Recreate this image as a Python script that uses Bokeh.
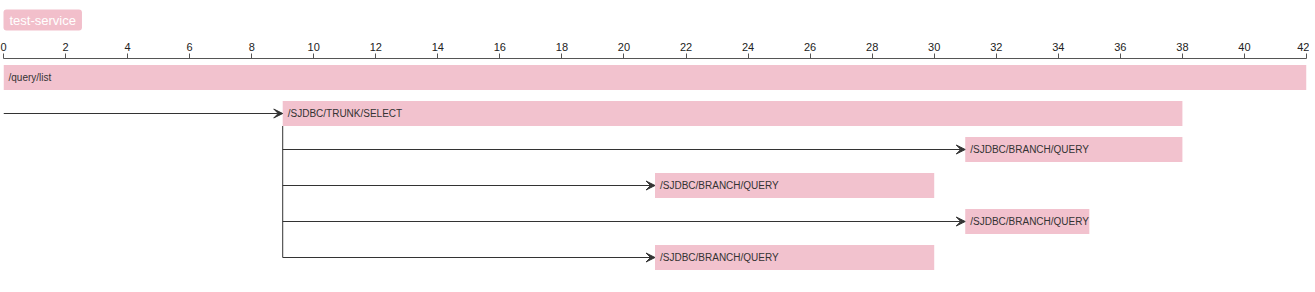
from bokeh.plotting import figure
from bokeh.models import (ColumnDataSource, Range1d, LinearAxis, FixedTicker,
                          Arrow, VeeHead, Title)
from bokeh.core.properties import value
from bokeh.embed import file_html
from bokeh.resources import INLINE

# ---- data ----
service = "test-service"
span_names = ["/query/list", "/SJDBC/TRUNK/SELECT", "/SJDBC/BRANCH/QUERY",
              "/SJDBC/BRANCH/QUERY", "/SJDBC/BRANCH/QUERY", "/SJDBC/BRANCH/QUERY"]
span_start = [0, 9, 31, 21, 31, 21]
span_end = [42, 38, 38, 30, 35, 30]
span_row = [0, 1, 2, 3, 4, 5]
span_parent = [-1, 0, 1, 1, 1, 1]
tick_values = list(range(0, 43, 2))

BAR = "#F2C2CE"
TXT = "#333333"
FONT = "Liberation Sans"
ROW_PX = 36.0

p = figure(width=1309, height=292, output_backend="svg", toolbar_location=None,
           x_axis_location=None, y_axis_location=None,
           min_border_left=3, min_border_right=3, min_border_bottom=0,
           min_border_top=58)
p.x_range = Range1d(0, 42)
p.y_range = Range1d((292 - 58 - 19) / ROW_PX, -19 / ROW_PX)
p.grid.visible = False
p.outline_line_color = None
p.background_fill_color = "white"
p.border_fill_color = "white"

ax = LinearAxis(ticker=FixedTicker(ticks=tick_values))
ax.major_tick_in = 0
ax.major_tick_out = 5
ax.minor_tick_line_color = None
ax.axis_line_color = "#555555"
ax.major_tick_line_color = "#555555"
ax.major_label_standoff = 3
ax.major_label_text_font = FONT
ax.major_label_text_font_size = "11px"
ax.major_label_text_color = "#222222"
p.add_layout(ax, "above")

t = Title(text=service, align="left", offset=0, text_font=FONT,
          text_font_size="13px", text_font_style="normal", text_color="white",
          background_fill_color="#F2BFCB", padding=(6, 3), border_radius=3,
          standoff=14, vertical_align="top")
p.add_layout(t, "above")

src = ColumnDataSource(dict(name=span_names, left=span_start, right=span_end,
                            row=span_row))
p.hbar(y="row", left="left", right="right", height=25 / ROW_PX, source=src,
       fill_color=BAR, line_color=None)
p.text(x="left", y="row", text="name", source=src, x_offset=5,
       text_baseline="middle", text_align="left", text_font=value(FONT),
       text_font_size="10px", text_color=TXT)

# connectors
ax_s, ay_s, ax_e, ay_e = [], [], [], []
vx, vy0, vy1 = [], [], []
children = {}
for i, par in enumerate(span_parent):
    if par < 0:
        continue
    ax_s.append(span_start[par])
    ay_s.append(span_row[i])
    ax_e.append(span_start[i])
    ay_e.append(span_row[i])
    children.setdefault(par, []).append(i)
for par, ch in children.items():
    if len(ch) > 1:
        vx.append(span_start[par])
        vy0.append(span_row[par] + 12.5 / ROW_PX)
        vy1.append(max(span_row[c] for c in ch))

p.segment(x0=vx, y0=vy0, x1=vx, y1=vy1, line_color=TXT, line_width=1)
arr_src = ColumnDataSource(dict(xs=ax_s, ys=ay_s, xe=ax_e, ye=ay_e))
p.add_layout(Arrow(x_start="xs", y_start="ys", x_end="xe", y_end="ye",
                   source=arr_src, line_color=TXT, line_width=1.2,
                   end=VeeHead(size=9, fill_color=TXT, fill_alpha=1.0,
                               line_color=TXT, line_width=1)))

open("out.html", "w").write(file_html(p, INLINE))
